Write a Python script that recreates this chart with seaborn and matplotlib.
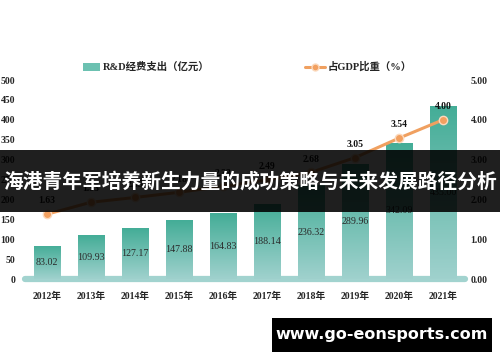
import numpy as np
import pandas as pd
import seaborn as sns
import matplotlib.pyplot as plt
from matplotlib.colors import LinearSegmentedColormap

sns.set_style("white")
plt.rcParams['font.family'] = ['Liberation Serif', 'Noto Sans CJK SC', 'DejaVu Sans']

# data
years = ["2012年", "2013年", "2014年", "2015年", "2016年",
         "2017年", "2018年", "2019年", "2020年", "2021年"]
rd_spend = [83.02, 109.93, 127.17, 147.88, 164.83, 188.14, 236.32, 289.96, 342.09, 435.0]
gdp_share = [1.63, 1.93, 2.05, 2.18, 2.33, 2.49, 2.68, 3.05, 3.54, 4.00]
bar_name = "R&D经费支出（亿元）"
line_name = "占GDP比重（%）"
banner = "海港青年军培养新生力量的成功策略与未来发展路径分析"
site = "www.go-eonsports.com"

df = pd.DataFrame({"year": years, "rd": rd_spend, "gdp": gdp_share})

fig = plt.figure(figsize=(5, 3.62), dpi=100)
ax = fig.add_axes([0.05, 0.229, 0.88, 0.55])

sns.barplot(data=df, x="year", y="rd", color="#4aae9b", width=0.6, ax=ax, zorder=2)

# gradient fill on each bar
grad = LinearSegmentedColormap.from_list("g", ["#9fd1cd", "#44ad97"])
for p in ax.patches:
    x0, y0 = p.get_x(), p.get_y()
    w, h = p.get_width(), p.get_height()
    img = ax.imshow(np.linspace(0, 1, 100).reshape(-1, 1), cmap=grad, aspect="auto",
                    origin="lower", extent=[x0, x0 + w, y0, y0 + h], zorder=2)
    img.set_clip_path(p)
    p.set_alpha(0)
    ax.text(x0 + w / 2, h / 2, f"{h:.2f}", ha="center", va="center",
            fontsize=7.2, color="#2a2a2a", zorder=4, family="Liberation Serif")

ax.set_xlim(-0.5, 9.5)
ax.set_ylim(0, 500)
ax.set_yticks(range(0, 501, 50))
ax.set_xlabel("")
ax.set_ylabel("")
for s in ax.spines.values():
    s.set_visible(False)
ax.axhline(0, color="#a2d3cf", lw=4.5, zorder=1, clip_on=False)
ax.tick_params(axis="both", length=0, labelsize=7, pad=7)
for t in ax.get_xticklabels() + ax.get_yticklabels():
    t.set_fontweight("bold")
ax.tick_params(axis="x", pad=9)

ax2 = ax.twinx()
sns.lineplot(x=np.arange(len(years)), y=gdp_share, ax=ax2, color="#f0a060", lw=2.2,
             marker="o", markersize=6, markerfacecolor="#f2a060",
             markeredgecolor="#fbd9bd", markeredgewidth=1, zorder=5)
ax2.set_ylim(0, 5)
ax2.set_yticks(range(0, 6))
ax2.set_yticklabels([f"{v:.2f}" for v in range(0, 6)])
ax2.tick_params(axis="y", length=0, labelsize=7, pad=4)
for t in ax2.get_yticklabels():
    t.set_fontweight("bold")
for s in ax2.spines.values():
    s.set_visible(False)
for i, v in enumerate(gdp_share):
    ax2.text(i, v + 0.22, f"{v:.2f}", ha="center", va="bottom", fontsize=7,
             fontweight="bold", color="#111111", zorder=6)

# legend
fig.patches.append(plt.Rectangle((0.166, 0.805), 0.034, 0.022, transform=fig.transFigure,
                                 facecolor="#6cc1b1", edgecolor="none"))
fig.text(0.205, 0.816, bar_name, fontsize=7.5, fontweight="bold", va="center")
leg_line = plt.Line2D([0.61, 0.63, 0.65], [0.816, 0.816, 0.816], transform=fig.transFigure,
                      color="#f0a060", lw=2.2, marker="o", markersize=5, markevery=[1],
                      markerfacecolor="#f2a060", markeredgecolor="#fbd9bd")
fig.lines.append(leg_line)
fig.text(0.655, 0.816, line_name, fontsize=7.5, fontweight="bold", va="center")

# banner overlay
fig.patches.append(plt.Rectangle((0, 1 - 212 / 362), 1, 62 / 362, transform=fig.transFigure,
                                 facecolor="black", alpha=0.88, edgecolor="none", zorder=10))
fig.text(0.5, 1 - 182 / 362, banner, color="white", fontsize=14.2, fontweight="bold",
         ha="center", va="center", family=["Noto Sans CJK SC"], zorder=11)

# site box
fig.patches.append(plt.Rectangle((272 / 500, 1 - 352 / 362), 220 / 500, 34 / 362,
                                 transform=fig.transFigure, facecolor="black",
                                 edgecolor="none", zorder=10))
fig.text(382 / 500, 1 - 335 / 362, site, color="white", fontsize=11.5, fontweight="bold",
         ha="center", va="center", family=["DejaVu Sans"], zorder=11)

fig.savefig("out.png", dpi=100)
